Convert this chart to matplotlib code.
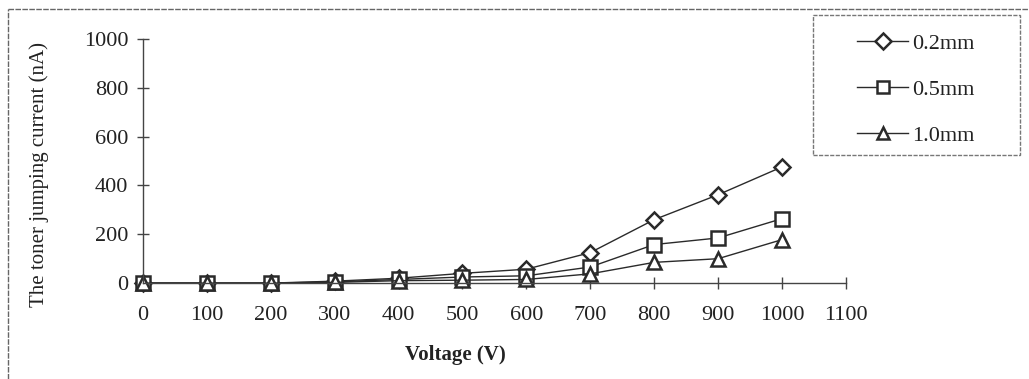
import matplotlib
matplotlib.use("Agg")
import matplotlib.pyplot as plt
from matplotlib.lines import Line2D
from matplotlib.patches import Rectangle

plt.rcParams['font.family'] = ['Liberation Serif', 'DejaVu Serif']

voltage = [0, 100, 200, 300, 400, 500, 600, 700, 800, 900, 1000]
current_02 = [0, 0, 0, 8, 20, 40, 57, 125, 260, 362, 476]
current_05 = [0, 0, 0, 5, 15, 25, 30, 66, 158, 185, 264]
current_10 = [0, 0, 0, 3, 10, 12, 15, 38, 85, 100, 178]
labels = ["0.2mm", "0.5mm", "1.0mm"]
markers = ["D", "s", "^"]
x_ticks = list(range(0, 1101, 100))
y_ticks = list(range(0, 1001, 200))

W, H = 1029, 379
fig = plt.figure(figsize=(W / 100, H / 100), dpi=100)
ax = fig.add_axes([0.139, 0.253, 0.683, 0.644])

series = [current_02, current_05, current_10]
sizes = [8, 10, 10]
for vals, lab, mk, ms in zip(series, labels, markers, sizes):
    ax.plot(voltage, vals, color="#2a2a2a", lw=1, marker=mk, ms=ms,
            mfc="white", mec="#2a2a2a", mew=1.8, label=lab)

ax.set_xlim(0, 1100)
ax.set_ylim(0, 1000)
ax.set_xticks(x_ticks)
ax.set_yticks(y_ticks)
ax.spines['top'].set_visible(False)
ax.spines['right'].set_visible(False)
for s in ['left', 'bottom']:
    ax.spines[s].set_color("#444444")
    ax.spines[s].set_linewidth(1)
ax.tick_params(direction='inout', length=9, width=1, colors="#444444",
               labelcolor="#222222", labelsize=16, pad=6)
ax.tick_params(axis='x', pad=12)
for ln in ax.lines:
    ln.set_clip_on(False)

ax.set_xlabel("Voltage (V)", fontsize=15, fontweight='bold', color="#222222")
ax.set_ylabel("The toner jumping current (nA)", fontsize=15, color="#222222")
ax.xaxis.set_label_coords(0.444, -0.255)
ax.yaxis.set_label_coords(-0.134, 0.443)

# legend without frame, box drawn separately
leg = fig.legend(loc='upper left', bbox_to_anchor=(857 / W, 1 - 33 / H), frameon=False,
                 fontsize=16, handlelength=2.3, labelspacing=1.15, borderpad=0,
                 handletextpad=0.2, borderaxespad=0)
for h in leg.legend_handles:
    h.set_markersize(8)
for t in leg.get_texts():
    t.set_color("#222222")
fig.add_artist(Rectangle((813 / W, 1 - 155 / H), 207 / W, 140 / H,
                         transform=fig.transFigure, fill=False, ec="#777777",
                         lw=1, linestyle=(0, (3, 1))))

# scanned page frame: left and top edges
fig.add_artist(Line2D([0.008, 0.008], [0.0, 0.976], color="#666666", lw=1,
                      linestyle=(0, (4, 1)), transform=fig.transFigure))
fig.add_artist(Line2D([0.008, 1.0], [0.976, 0.976], color="#666666", lw=1,
                      linestyle=(0, (4, 1)), transform=fig.transFigure))

fig.savefig("out.png", dpi=100)
